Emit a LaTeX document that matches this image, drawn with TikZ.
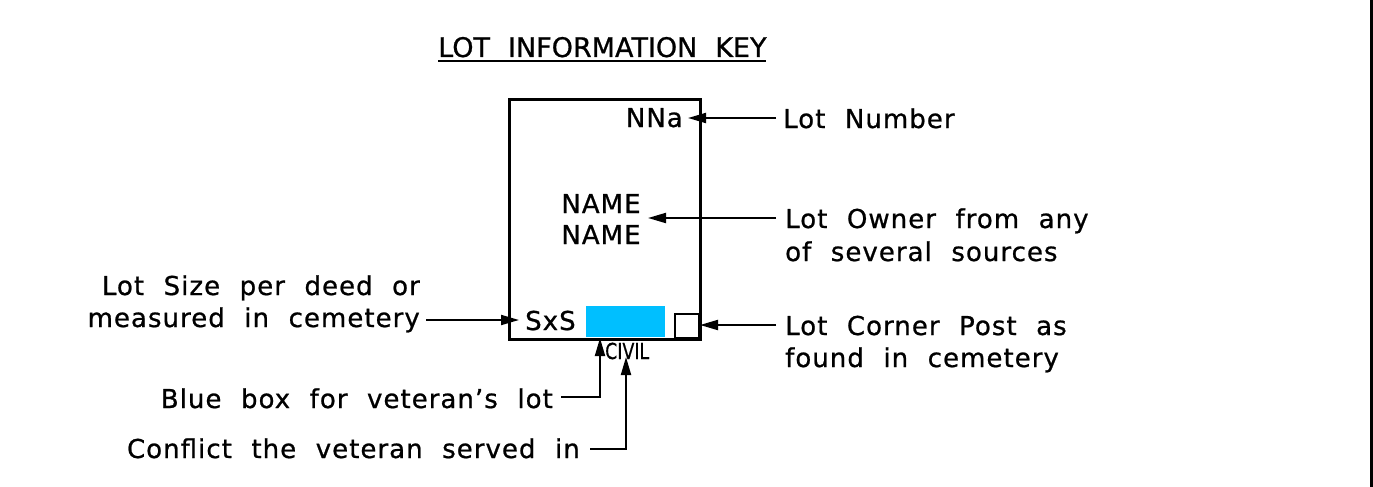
\documentclass[tikz,border=0pt]{standalone}
\usepackage{fontspec}
\setmainfont{DejaVu Sans}[WordSpace=2.1,LetterSpace=4,FakeBold=0.8]
\newfontfamily\titlefont{DejaVu Sans}[WordSpace=2.1,FakeBold=0.8]
\newfontfamily\smallfont{DejaVu Sans}[FakeBold=0.5]
\usetikzlibrary{arrows.meta}
\definecolor{vetblue}{RGB}{0,191,255}
\begin{document}
\begin{tikzpicture}[x=1pt,y=-1pt,
  lbl/.style={inner sep=0pt, font=\fontsize{26}{31}\selectfont},
  arr/.style={line width=2pt, -{Triangle[length=18pt,width=10pt]}},
  ln/.style={line width=2pt}]
\useasboundingbox (0,0) rectangle (1373,487);
\fill[white] (0,0) rectangle (1373,487);
\fill[black] (1370,0) rectangle (1373,487);
% title
\node[inner sep=0pt, anchor=base west, font=\titlefont\fontsize{27}{31}\selectfont] (title) at (438,57) {LOT INFORMATION KEY};
\draw[line width=2pt] (title.base west) ++(0,4) -- ++(328,0);
% lot box
\node[draw, line width=3pt, minimum width=191pt, minimum height=240pt, inner sep=0pt, anchor=north west] (lot) at (508,98) {};
\fill[vetblue] (586,306) rectangle (665,337);
\coordinate (blue) at (600,338);
\node[draw, line width=2.5pt, minimum size=24pt, inner sep=0pt] (post) at (687,326) {};
% inner texts
\node[lbl, anchor=base east] (nna) at (683,127) {NNa};
\node[lbl, anchor=base] (name1) at (601,213) {NAME};
\node[lbl, anchor=base] (name2) at (601,244) {NAME};
\node[lbl, anchor=base west] (sxs) at (525,330) {SxS};
\node[inner sep=0pt, anchor=base west, font=\smallfont\fontsize{22}{26}\selectfont] (civil) at (605,359) {\scalebox{0.79}[1]{CIVIL}};
% right labels
\node[lbl, anchor=base west] (lotnum) at (783,128) {Lot Number};
\node[lbl, anchor=base west] (owner1) at (785,228) {Lot Owner from any};
\node[lbl, anchor=base west] (owner2) at (785,261) {of several sources};
\node[lbl, anchor=base west] (corner1) at (785,335) {Lot Corner Post as};
\node[lbl, anchor=base west] (corner2) at (785,367) {found in cemetery};
% left labels
\node[lbl, anchor=base east] (size1) at (420,295) {Lot Size per deed or};
\node[lbl, anchor=base east] (size2) at (420,327) {measured in cemetery};
\node[lbl, anchor=base east] (bluetxt) at (553,408) {Blue box for veteran’s lot};
\node[lbl, anchor=base east] (conflict) at (580,458) {Conflict the veteran served in};
% connectors
\coordinate (nnatip) at (688,118);
\coordinate (nametip) at (648,218);
\coordinate (sxstip) at (519,320);
\coordinate (posttip) at (700,325);
\coordinate (civiltip) at (626,357);
\draw[arr] ([xshift=-7pt]lotnum.base west) ++(0,-10) -- (nnatip);
\draw[arr] ([xshift=-9pt]owner1.base west) ++(0,-10) -- (nametip);
\draw[arr] ([xshift=-9pt]corner1.base west) ++(0,-10) -- (posttip);
\draw[arr] ([xshift=6pt]size2.base east) ++(0,-7) -- (sxstip);
\draw[arr] ([xshift=8pt]bluetxt.base east) ++(0,-11) -- (600,397) -- (blue);
\draw[arr] ([xshift=10pt]conflict.base east) ++(0,-9) -- (626,449) -- (civiltip);
\end{tikzpicture}
\end{document}
